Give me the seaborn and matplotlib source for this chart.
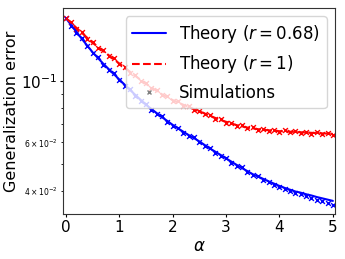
import matplotlib
matplotlib.use("Agg")
import matplotlib.pyplot as plt
import seaborn as sns
import numpy as np
import pandas as pd
from matplotlib.lines import Line2D

alpha = [round(0.1 * i, 1) for i in range(51)]

theory_r068 = [0.1698, 0.1600, 0.1510, 0.1426, 0.1349, 0.1276, 0.1216, 0.1159, 0.1109, 0.1062,
               0.1016, 0.0973, 0.0931, 0.0893, 0.0857, 0.0822, 0.0794, 0.0767, 0.0741, 0.0718,
               0.0695, 0.0675, 0.0656, 0.0638, 0.0622, 0.0605, 0.0587, 0.0570, 0.0555, 0.0540,
               0.0525, 0.0511, 0.0497, 0.0484, 0.0472, 0.0460, 0.0451, 0.0442, 0.0433, 0.0425,
               0.0417, 0.0410, 0.0404, 0.0398, 0.0394, 0.0389, 0.0385, 0.0380, 0.0376, 0.0372,
               0.0368]

sim_r068 = [0.1702, 0.1588, 0.1497, 0.1431, 0.1340, 0.1262, 0.1222, 0.1148, 0.1101, 0.1069,
            0.1008, 0.0965, 0.0938, 0.0886, 0.0851, 0.0828, 0.0788, 0.0761, 0.0746, 0.0712,
            0.0690, 0.0679, 0.0650, 0.0634, 0.0626, 0.0601, 0.0583, 0.0574, 0.0551, 0.0536,
            0.0528, 0.0507, 0.0494, 0.0487, 0.0468, 0.0456, 0.0453, 0.0438, 0.0430, 0.0421,
            0.0414, 0.0407, 0.0401, 0.0394, 0.0390, 0.0383, 0.0378, 0.0370, 0.0367, 0.0362,
            0.0357]

theory_r1 = [0.1698, 0.1629, 0.1563, 0.1500, 0.1439, 0.1380, 0.1334, 0.1288, 0.1245, 0.1202,
             0.1161, 0.1122, 0.1084, 0.1047, 0.1012, 0.0979, 0.0951, 0.0923, 0.0897, 0.0875,
             0.0855, 0.0838, 0.0822, 0.0807, 0.0792, 0.0778, 0.0764, 0.0750, 0.0736, 0.0724,
             0.0713, 0.0703, 0.0693, 0.0686, 0.0679, 0.0675, 0.0670, 0.0667, 0.0664, 0.0661,
             0.0659, 0.0658, 0.0656, 0.0655, 0.0653, 0.0652, 0.0650, 0.0649, 0.0647, 0.0646,
             0.0644]

sim_r1 = [0.1694, 0.1635, 0.1551, 0.1508, 0.1430, 0.1391, 0.1322, 0.1297, 0.1236, 0.1214,
          0.1152, 0.1130, 0.1076, 0.1056, 0.1004, 0.0988, 0.0944, 0.0931, 0.0890, 0.0883,
          0.0848, 0.0846, 0.0815, 0.0812, 0.0785, 0.0783, 0.0758, 0.0756, 0.0731, 0.0729,
          0.0707, 0.0708, 0.0689, 0.0692, 0.0676, 0.0681, 0.0666, 0.0672, 0.0661, 0.0666,
          0.0657, 0.0663, 0.0652, 0.0660, 0.0649, 0.0657, 0.0646, 0.0654, 0.0643, 0.0651,
          0.0640]

xticks = [0, 1, 2, 3, 4, 5]
labels = ["Theory ($r = 0.68$)", "Theory ($r = 1$)", "Simulations"]

sns.set_style("ticks")
plt.rcParams['font.family'] = ['DejaVu Sans']
plt.rcParams['text.color'] = 'black'
plt.rcParams['axes.labelcolor'] = 'black'
plt.rcParams['xtick.color'] = 'black'
plt.rcParams['ytick.color'] = 'black'

fig = plt.figure(figsize=(3.45, 2.59), dpi=100)
ax = fig.add_axes([0.183, 0.174, 0.788, 0.795])

sns.lineplot(x=alpha, y=theory_r068, color="blue", linewidth=1.5, ax=ax, label=labels[0])
sns.lineplot(x=alpha, y=theory_r1, color="red", linewidth=1.5, linestyle="--", ax=ax, label=labels[1])
sns.scatterplot(x=alpha, y=sim_r068, marker="x", color="blue", s=12, linewidth=1.0, ax=ax)
sns.scatterplot(x=alpha, y=sim_r1, marker="x", color="red", s=12, linewidth=1.0, ax=ax)

ax.set_yscale("log")
ax.set_xlim(-0.05, 5.04)
ax.set_ylim(0.033, 0.1845)
ax.set_xticks(xticks)
ax.set_xticklabels([str(t) for t in xticks])

ax.set_xlabel(r"$\alpha$", fontsize=12, labelpad=1)
ax.set_ylabel("Generalization error", fontsize=11.5, labelpad=1)
ax.tick_params(axis="both", which="major", labelsize=11, length=2.5, width=0.8, pad=2)
ax.tick_params(axis="y", which="minor", labelsize=5.5, length=1.8, width=0.6, pad=2)

for s in ax.spines.values():
    s.set_color("#333333")
    s.set_linewidth(0.8)

handles = [Line2D([], [], color="blue", linewidth=1.5),
           Line2D([], [], color="red", linewidth=1.5, linestyle="--"),
           Line2D([], [], color="gray", marker="x", linestyle="", markersize=3.5, markeredgewidth=1.0)]
ax.legend(handles, labels, loc="upper right", fontsize=12, frameon=True)

fig.savefig("out.png", dpi=100)
